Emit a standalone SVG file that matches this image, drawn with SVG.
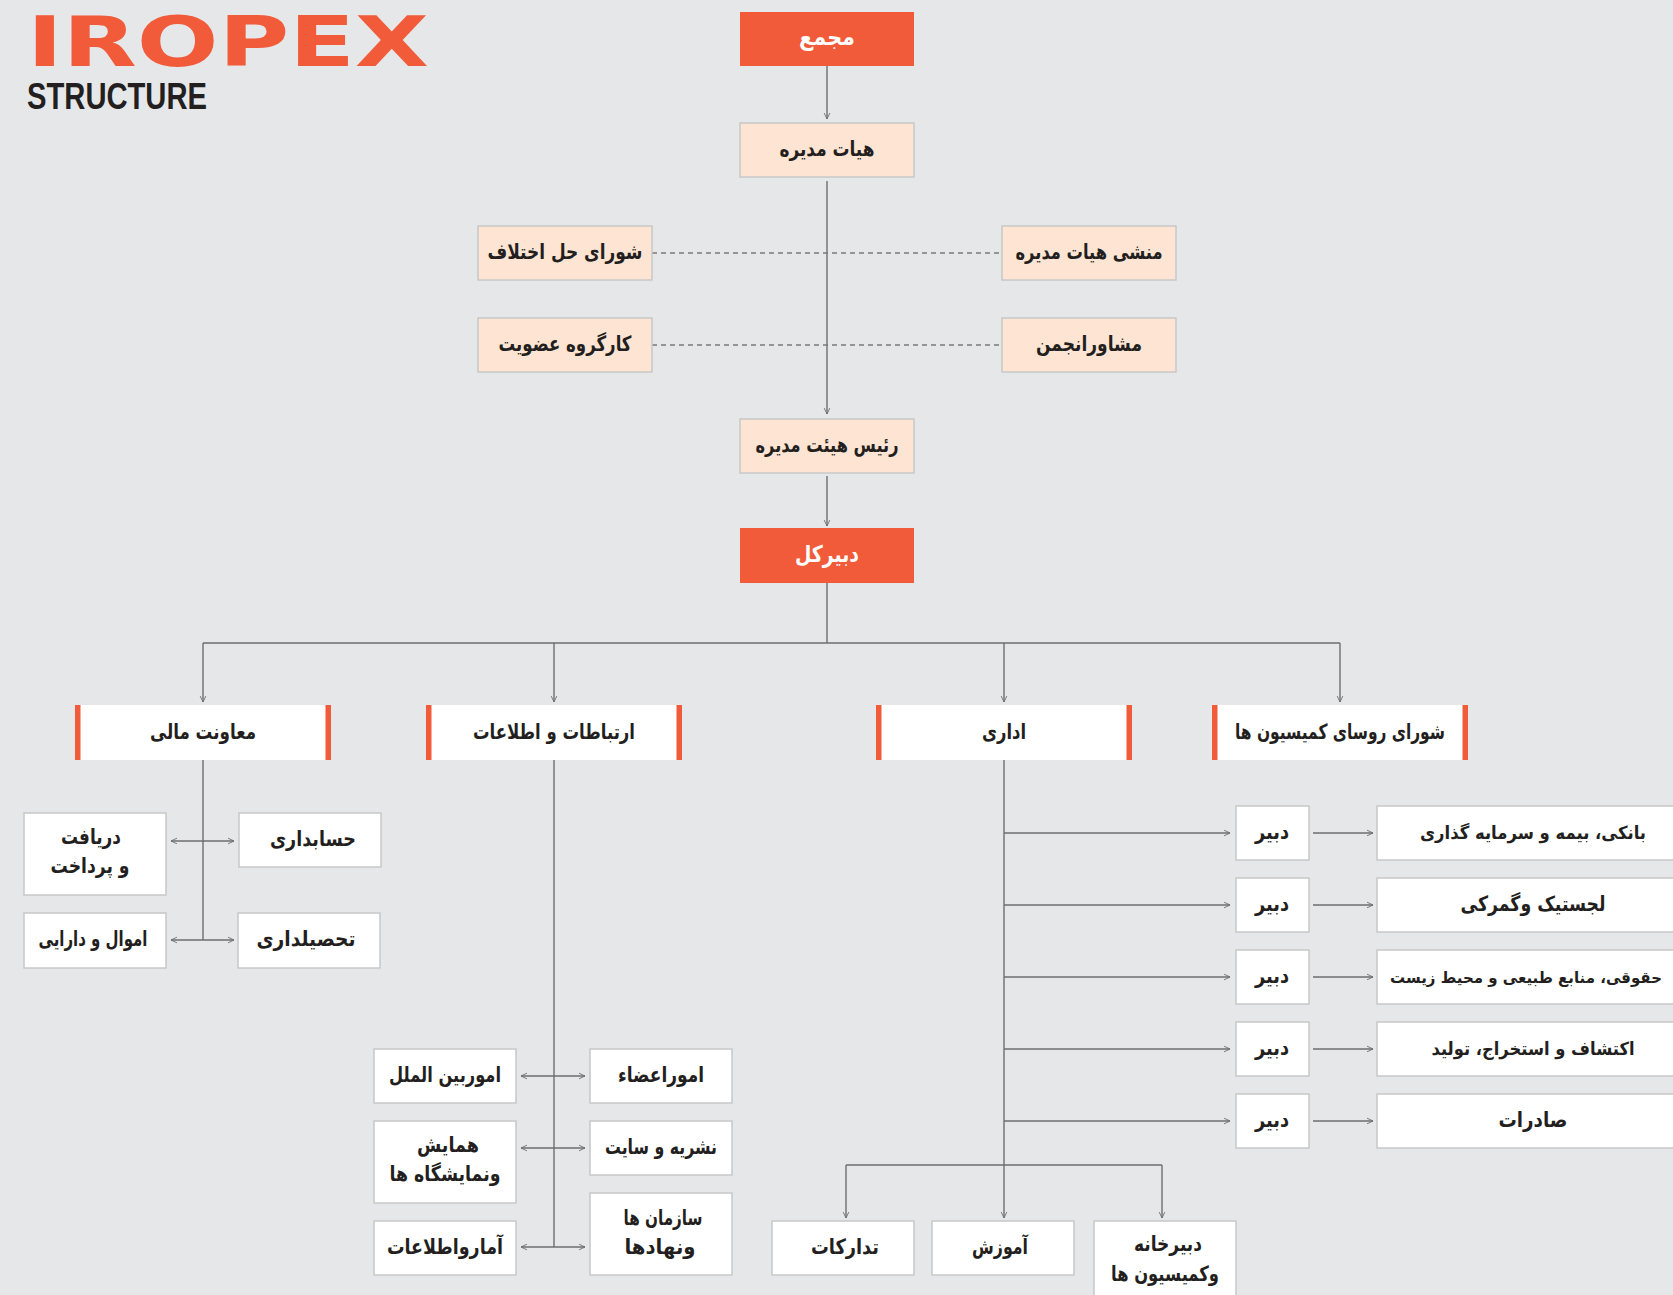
<svg xmlns="http://www.w3.org/2000/svg" width="1673" height="1295" viewBox="0 0 1673 1295">
<style>
.bg{fill:#e6e7e9}
.org{fill:#f15b3a}
.peach{fill:#fee5d3;stroke:#c8c8c8;stroke-width:1.5}
.wb{fill:#ffffff;stroke:#c8c8c8;stroke-width:1.5}
.w2{fill:#ffffff}
.bar{fill:#f15b3a}
.t{font-family:"DejaVu Sans",sans-serif;font-weight:bold;font-size:21px;fill:#231f20;text-anchor:middle;direction:rtl}
.tw{fill:#ffffff;font-size:23px}
.ln{fill:none;stroke:#6d6e71;stroke-width:1.4}
.da{fill:none;stroke:#7a7a7a;stroke-width:1.3;stroke-dasharray:5 4}
.ar{marker-end:url(#ah)}
.dar{marker-end:url(#ah);marker-start:url(#ah)}
</style>
<defs>
<marker id="ah" viewBox="0 0 10 10" refX="9.5" refY="5" markerWidth="7" markerHeight="10" markerUnits="userSpaceOnUse" orient="auto-start-reverse">
<path d="M1,1 L9.5,5 L1,9" fill="none" stroke="#6d6e71" stroke-width="1.3"/>
</marker>
</defs>
<rect class="bg" x="0" y="0" width="1673" height="1295"/>

<g id="title">
<text x="27" y="66" font-family="DejaVu Sans,sans-serif" font-weight="bold" font-size="70" fill="#f15b3a" textLength="402" lengthAdjust="spacingAndGlyphs">IROPEX</text>
<text x="27" y="109" font-family="Liberation Sans,Arial,sans-serif" font-weight="bold" font-size="37" fill="#231f20" textLength="180" lengthAdjust="spacingAndGlyphs">STRUCTURE</text>
</g>

<g id="connectors">
<line class="ln ar" x1="827" y1="66" x2="827" y2="119"/>
<line class="ln ar" x1="827" y1="181" x2="827" y2="414"/>
<line class="da" x1="652" y1="253" x2="1002" y2="253"/>
<line class="da" x1="652" y1="345" x2="1002" y2="345"/>
<line class="ln ar" x1="827" y1="476" x2="827" y2="526"/>
<line class="ln" x1="827" y1="583" x2="827" y2="643"/>
<line class="ln" x1="203" y1="643" x2="1340" y2="643"/>
<line class="ln ar" x1="203" y1="643" x2="203" y2="702"/>
<line class="ln ar" x1="554" y1="643" x2="554" y2="702"/>
<line class="ln ar" x1="1004" y1="643" x2="1004" y2="702"/>
<line class="ln ar" x1="1340" y1="643" x2="1340" y2="702"/>
<line class="ln" x1="203" y1="760" x2="203" y2="940"/>
<line class="ln dar" x1="171" y1="841" x2="234" y2="841"/>
<line class="ln dar" x1="171" y1="940" x2="234" y2="940"/>
<line class="ln" x1="554" y1="760" x2="554" y2="1247"/>
<line class="ln dar" x1="521" y1="1076" x2="585" y2="1076"/>
<line class="ln dar" x1="521" y1="1148" x2="585" y2="1148"/>
<line class="ln dar" x1="521" y1="1247" x2="585" y2="1247"/>
<line class="ln ar" x1="1004" y1="760" x2="1004" y2="1218"/>
<line class="ln ar" x1="1004" y1="833" x2="1230" y2="833"/>
<line class="ln ar" x1="1004" y1="905" x2="1230" y2="905"/>
<line class="ln ar" x1="1004" y1="977" x2="1230" y2="977"/>
<line class="ln ar" x1="1004" y1="1049" x2="1230" y2="1049"/>
<line class="ln ar" x1="1004" y1="1121" x2="1230" y2="1121"/>
<line class="ln ar" x1="1313" y1="833" x2="1373" y2="833"/>
<line class="ln ar" x1="1313" y1="905" x2="1373" y2="905"/>
<line class="ln ar" x1="1313" y1="977" x2="1373" y2="977"/>
<line class="ln ar" x1="1313" y1="1049" x2="1373" y2="1049"/>
<line class="ln ar" x1="1313" y1="1121" x2="1373" y2="1121"/>
<line class="ln" x1="846" y1="1165" x2="1162" y2="1165"/>
<line class="ln ar" x1="846" y1="1165" x2="846" y2="1218"/>
<line class="ln ar" x1="1162" y1="1165" x2="1162" y2="1218"/>
</g>

<g id="n-majma"><rect class="org" x="740" y="12" width="174" height="54"/><text class="t tw" x="827" y="45" textLength="56" lengthAdjust="spacingAndGlyphs">مجمع</text></g>
<g id="n-board"><rect class="peach" x="740" y="123" width="174" height="54"/><text class="t" x="827" y="156" textLength="95" lengthAdjust="spacingAndGlyphs">هیات مدیره</text></g>
<g id="n-dispute"><rect class="peach" x="478" y="226" width="174" height="54"/><text class="t" x="565" y="259" textLength="155" lengthAdjust="spacingAndGlyphs">شورای حل اختلاف</text></g>
<g id="n-secretary"><rect class="peach" x="1002" y="226" width="174" height="54"/><text class="t" x="1089" y="259" textLength="147" lengthAdjust="spacingAndGlyphs">منشی هیات مدیره</text></g>
<g id="n-membership"><rect class="peach" x="478" y="318" width="174" height="54"/><text class="t" x="565" y="351" textLength="133" lengthAdjust="spacingAndGlyphs">کارگروه عضویت</text></g>
<g id="n-advisor"><rect class="peach" x="1002" y="318" width="174" height="54"/><text class="t" x="1089" y="351" textLength="106" lengthAdjust="spacingAndGlyphs">مشاورانجمن</text></g>
<g id="n-chairman"><rect class="peach" x="740" y="419" width="174" height="54"/><text class="t" x="827" y="452" textLength="143" lengthAdjust="spacingAndGlyphs">رئیس هیئت مدیره</text></g>
<g id="n-sg"><rect class="org" x="740" y="528" width="174" height="55"/><text class="t tw" x="827" y="562" textLength="64" lengthAdjust="spacingAndGlyphs">دبیرکل</text></g>

<g id="n-finance"><rect class="w2" x="75" y="705" width="256" height="55"/><rect class="bar" x="75" y="705" width="5.5" height="55"/><rect class="bar" x="325.5" y="705" width="5.5" height="55"/><text class="t" x="203" y="739" textLength="106" lengthAdjust="spacingAndGlyphs">معاونت مالی</text></g>
<g id="n-comm"><rect class="w2" x="426" y="705" width="256" height="55"/><rect class="bar" x="426" y="705" width="5.5" height="55"/><rect class="bar" x="676.5" y="705" width="5.5" height="55"/><text class="t" x="554" y="739" textLength="162" lengthAdjust="spacingAndGlyphs">ارتباطات و اطلاعات</text></g>
<g id="n-admin"><rect class="w2" x="876" y="705" width="256" height="55"/><rect class="bar" x="876" y="705" width="5.5" height="55"/><rect class="bar" x="1126.5" y="705" width="5.5" height="55"/><text class="t" x="1004" y="739" textLength="44" lengthAdjust="spacingAndGlyphs">اداری</text></g>
<g id="n-council"><rect class="w2" x="1212" y="705" width="256" height="55"/><rect class="bar" x="1212" y="705" width="5.5" height="55"/><rect class="bar" x="1462.5" y="705" width="5.5" height="55"/><text class="t" x="1340" y="739" textLength="210" lengthAdjust="spacingAndGlyphs">شورای روسای کمیسیون ها</text></g>

<g id="n-payment"><rect class="wb" x="24" y="813" width="142" height="82"/><text class="t" x="91" y="844" textLength="60" lengthAdjust="spacingAndGlyphs">دریافت</text><text class="t" x="90" y="873" textLength="79" lengthAdjust="spacingAndGlyphs">و پرداخت</text></g>
<g id="n-accounting"><rect class="wb" x="239" y="813" width="142" height="54"/><text class="t" x="313" y="846" textLength="86" lengthAdjust="spacingAndGlyphs">حسابداری</text></g>
<g id="n-assets"><rect class="wb" x="24" y="913" width="142" height="55"/><text class="t" x="93" y="946" textLength="109" lengthAdjust="spacingAndGlyphs">اموال و دارایی</text></g>
<g id="n-collection"><rect class="wb" x="238" y="913" width="142" height="55"/><text class="t" x="306" y="946" textLength="99" lengthAdjust="spacingAndGlyphs">تحصیلداری</text></g>

<g id="n-intl"><rect class="wb" x="374" y="1049" width="142" height="54"/><text class="t" x="445" y="1082" textLength="112" lengthAdjust="spacingAndGlyphs">اموربین الملل</text></g>
<g id="n-members"><rect class="wb" x="590" y="1049" width="142" height="54"/><text class="t" x="661" y="1082" textLength="86" lengthAdjust="spacingAndGlyphs">اموراعضاء</text></g>
<g id="n-expo"><rect class="wb" x="374" y="1121" width="142" height="82"/><text class="t" x="448" y="1152" textLength="62" lengthAdjust="spacingAndGlyphs">همایش</text><text class="t" x="445" y="1181" textLength="111" lengthAdjust="spacingAndGlyphs">ونمایشگاه ها</text></g>
<g id="n-publication"><rect class="wb" x="590" y="1121" width="142" height="54"/><text class="t" x="661" y="1154" textLength="112" lengthAdjust="spacingAndGlyphs">نشریه و سایت</text></g>
<g id="n-stats"><rect class="wb" x="374" y="1221" width="142" height="54"/><text class="t" x="445" y="1254" textLength="116" lengthAdjust="spacingAndGlyphs">آمارواطلاعات</text></g>
<g id="n-orgs"><rect class="wb" x="590" y="1193" width="142" height="82"/><text class="t" x="663" y="1225" textLength="79" lengthAdjust="spacingAndGlyphs">سازمان ها</text><text class="t" x="660" y="1254" textLength="71" lengthAdjust="spacingAndGlyphs">ونهادها</text></g>

<g id="n-dabir1"><rect class="wb" x="1236" y="806" width="73" height="54"/><text class="t" x="1272" y="839" textLength="34" lengthAdjust="spacingAndGlyphs">دبیر</text></g>
<g id="n-dabir2"><rect class="wb" x="1236" y="878" width="73" height="54"/><text class="t" x="1272" y="911" textLength="34" lengthAdjust="spacingAndGlyphs">دبیر</text></g>
<g id="n-dabir3"><rect class="wb" x="1236" y="950" width="73" height="54"/><text class="t" x="1272" y="983" textLength="34" lengthAdjust="spacingAndGlyphs">دبیر</text></g>
<g id="n-dabir4"><rect class="wb" x="1236" y="1022" width="73" height="54"/><text class="t" x="1272" y="1055" textLength="34" lengthAdjust="spacingAndGlyphs">دبیر</text></g>
<g id="n-dabir5"><rect class="wb" x="1236" y="1094" width="73" height="54"/><text class="t" x="1272" y="1127" textLength="34" lengthAdjust="spacingAndGlyphs">دبیر</text></g>

<g id="n-banking"><rect class="wb" x="1377" y="806" width="297" height="54"/><text class="t" x="1533" y="839" font-size="18" style="font-size:18px" textLength="226" lengthAdjust="spacingAndGlyphs">بانکی، بیمه و سرمایه گذاری</text></g>
<g id="n-logistics"><rect class="wb" x="1377" y="878" width="297" height="54"/><text class="t" x="1533" y="911" textLength="145" lengthAdjust="spacingAndGlyphs">لجستیک وگمرکی</text></g>
<g id="n-legal"><rect class="wb" x="1377" y="950" width="297" height="54"/><text class="t" x="1526" y="983" style="font-size:15.5px" textLength="272" lengthAdjust="spacingAndGlyphs">حقوقی، منابع طبیعی و محیط زیست</text></g>
<g id="n-mining"><rect class="wb" x="1377" y="1022" width="297" height="54"/><text class="t" x="1533" y="1055" style="font-size:18px" textLength="203" lengthAdjust="spacingAndGlyphs">اکتشاف و استخراج، تولید</text></g>
<g id="n-export"><rect class="wb" x="1377" y="1094" width="297" height="54"/><text class="t" x="1533" y="1127" textLength="69" lengthAdjust="spacingAndGlyphs">صادرات</text></g>

<g id="n-procurement"><rect class="wb" x="772" y="1221" width="142" height="54"/><text class="t" x="845" y="1254" textLength="68" lengthAdjust="spacingAndGlyphs">تدارکات</text></g>
<g id="n-training"><rect class="wb" x="932" y="1221" width="142" height="54"/><text class="t" x="1000" y="1254" textLength="56" lengthAdjust="spacingAndGlyphs">آموزش</text></g>
<g id="n-secretariat"><rect class="wb" x="1094" y="1221" width="142" height="90"/><text class="t" x="1168" y="1251" textLength="68" lengthAdjust="spacingAndGlyphs">دبیرخانه</text><text class="t" x="1165" y="1281" textLength="108" lengthAdjust="spacingAndGlyphs">وکمیسیون ها</text></g>
</svg>
